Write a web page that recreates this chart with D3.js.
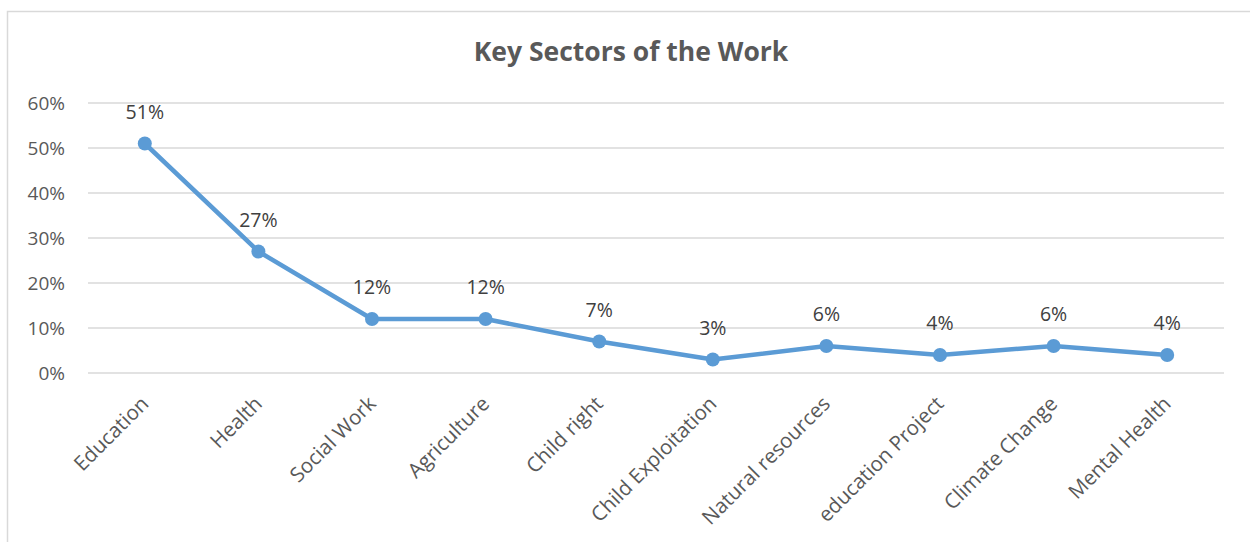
<!DOCTYPE html>
<html><head><meta charset="utf-8">
<script src="https://cdn.jsdelivr.net/npm/d3@7"></script>
<style>body{margin:0;background:#fff;}svg{display:block;}</style>
</head><body>
<svg id="c" width="1250" height="542"></svg>
<script>
const categories = ["Education","Health","Social Work","Agriculture","Child right","Child Exploitation","Natural resources","education Project","Climate Change","Mental Health"];
const values = [0.51,0.27,0.12,0.12,0.07,0.03,0.06,0.04,0.06,0.04];
const yTicks = [0,0.1,0.2,0.3,0.4,0.5,0.6];
const title = "Key Sectors of the Work";

const svg = d3.select("#c");
const font = "Open Sans, Liberation Sans, sans-serif";
svg.append("rect").attr("x",7.5).attr("y",11.5).attr("width",1260).attr("height",560)
  .attr("fill","#fff").attr("stroke","#d9d9d9").attr("stroke-width",1.5);

const x = d3.scaleBand().domain(categories).range([88,1224]);
const y = d3.scaleLinear().domain([0,0.6]).range([373,103]);

svg.append("text").attr("x",631).attr("y",61).attr("text-anchor","middle")
  .attr("font-family",font).attr("font-weight","bold").attr("font-size",26.5).attr("fill","#595959").text(title);

const grid = svg.append("g");
grid.selectAll("line").data(yTicks).join("line")
  .attr("x1",88).attr("x2",1224).attr("y1",d=>y(d)).attr("y2",d=>y(d))
  .attr("stroke","#d9d9d9").attr("stroke-width",1.5);

const yAxis = svg.append("g").attr("transform","translate(65,0)")
  .call(d3.axisLeft(y).tickValues(yTicks).tickFormat(d3.format(".0%")).tickSize(0).tickPadding(0));
yAxis.select(".domain").remove();
yAxis.selectAll("text").attr("font-family",font).attr("font-size",19).attr("fill","#595959");

const xAxis = svg.append("g").attr("transform","translate(0,373)")
  .call(d3.axisBottom(x).tickSize(0));
xAxis.select(".domain").remove();
xAxis.selectAll("text").attr("font-family",font).attr("font-size",20.5).attr("fill","#595959")
  .attr("text-anchor","end").attr("dy",0).attr("y",0)
  .attr("transform","translate(5,32) rotate(-45)");

const cx = d => x(d) + x.bandwidth()/2;
const line = d3.line().x((d,i)=>cx(categories[i])).y(d=>y(d));
svg.append("path").datum(values).attr("d",line).attr("fill","none")
  .attr("stroke","#5B9BD5").attr("stroke-width",4.5).attr("stroke-linejoin","round");
svg.selectAll("circle.pt").data(values).join("circle").attr("class","pt")
  .attr("cx",(d,i)=>cx(categories[i])).attr("cy",d=>y(d)).attr("r",7).attr("fill","#5B9BD5");
svg.selectAll("text.lbl").data(values).join("text").attr("class","lbl")
  .attr("x",(d,i)=>cx(categories[i])).attr("y",d=>y(d)-25).attr("text-anchor","middle")
  .attr("font-family",font).attr("font-size",19.5).attr("fill","#404040")
  .text(d=>d3.format(".0%")(d));
</script>
</body></html>
